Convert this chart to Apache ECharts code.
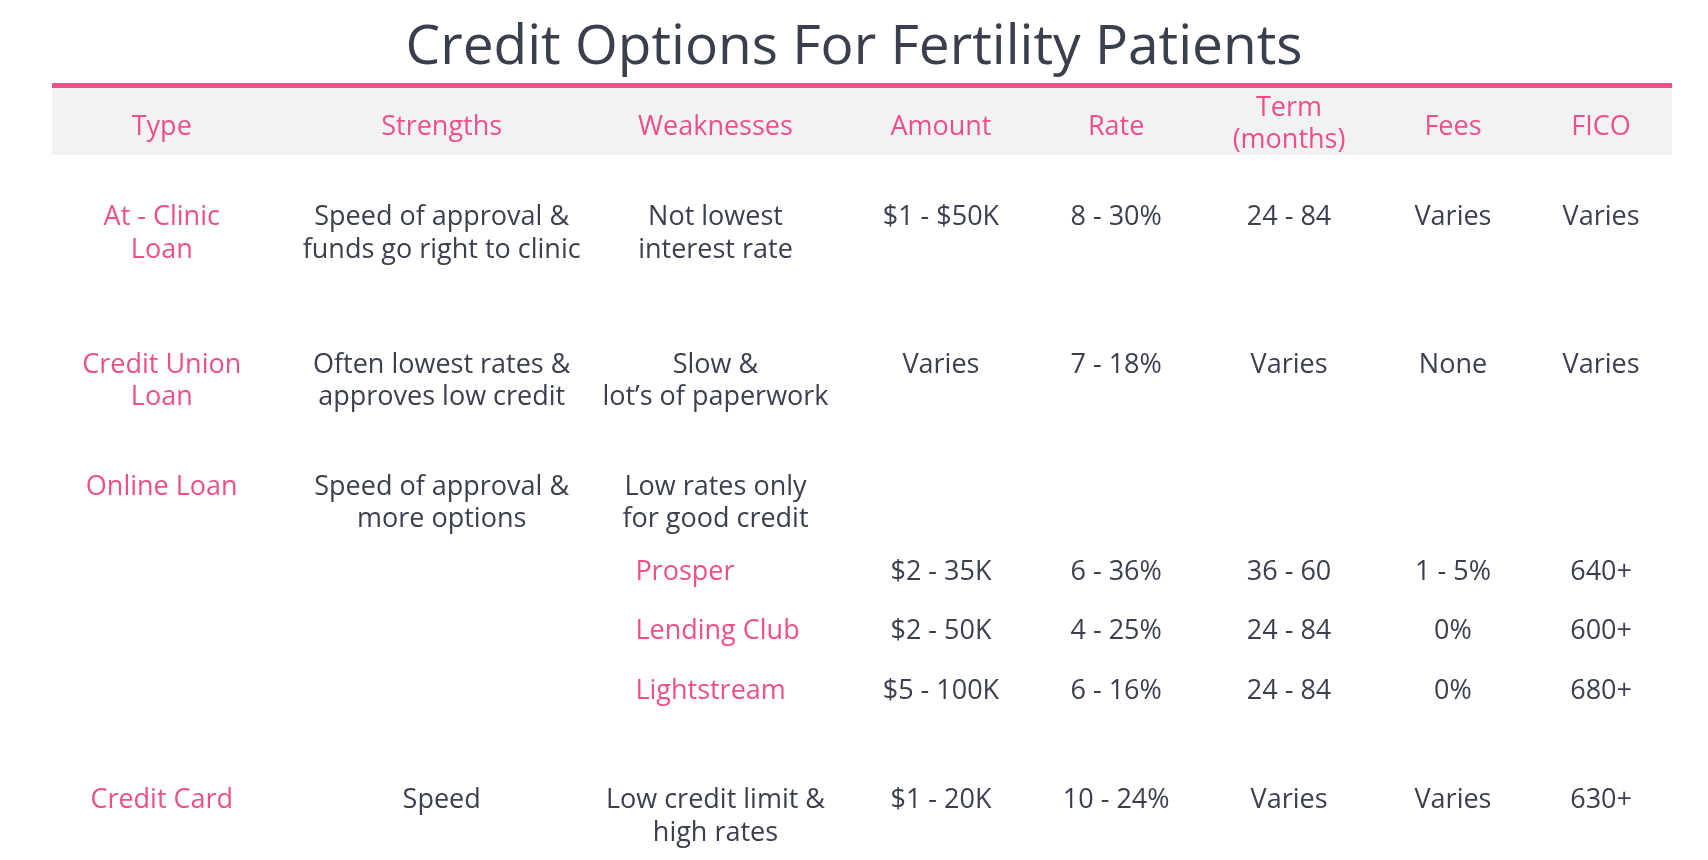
<!DOCTYPE html>
<html>
<head>
<meta charset="utf-8">
<script src="https://cdn.jsdelivr.net/npm/echarts@6/dist/echarts.min.js"></script>
<style>
html,body{margin:0;padding:0;background:#fff;}
#chart{width:1708px;height:860px;}
</style>
</head>
<body>
<div id="chart"></div>
<script>
// ---------------- DATA ----------------
const titleText = 'Credit Options For Fertility Patients';
const columns = ['Type', 'Strengths', 'Weaknesses', 'Amount', 'Rate', 'Term\n(months)', 'Fees', 'FICO'];
const types = ['At - Clinic\nLoan', 'Credit Union\nLoan', 'Online Loan', '', '', '', 'Credit Card'];
const lenders = ['', '', '', 'Prosper', 'Lending Club', 'Lightstream', ''];
const strengths = ['Speed of approval &\nfunds go right to clinic', 'Often lowest rates &\napproves low credit', 'Speed of approval &\nmore options', '', '', '', 'Speed'];
const weaknesses = ['Not lowest\ninterest rate', 'Slow &\nlot\u2019s of paperwork', 'Low rates only\nfor good credit', '', '', '', 'Low credit limit &\nhigh rates'];
const amounts = ['$1 - $50K', 'Varies', '', '$2 - 35K', '$2 - 50K', '$5 - 100K', '$1 - 20K'];
const rates = ['8 - 30%', '7 - 18%', '', '6 - 36%', '4 - 25%', '6 - 16%', '10 - 24%'];
const terms = ['24 - 84', 'Varies', '', '36 - 60', '24 - 84', '24 - 84', 'Varies'];
const fees = ['Varies', 'None', '', '1 - 5%', '0%', '0%', 'Varies'];
const fico = ['Varies', 'Varies', '', '640+', '600+', '680+', '630+'];

// ---------------- LAYOUT ----------------
const colCenters = [9.47, 25.86, 41.89, 55.09, 65.35, 75.47, 85.07, 93.74]; // % of width
const lenderLeft = 37.2;                 // % of width, left edge of lender names
const rowLines = [0, 4.5, 8.23, 10.83, 12.66, 14.49, 17.82]; // in text lines from first row
const headerLine = -2.76;
const LINE = 32.7;
const FIRST_ROW_Y = 217.7;
const PINK = '#ef4f88';
const DARK = '#3b4050';
const FONT = "'Open Sans', sans-serif";
const FS = 27;

// build cell records: [x, y, text, color, align]
const bodyCols = [types, strengths, weaknesses, amounts, rates, terms, fees, fico];
const cells = [];
columns.forEach((c, i) => {
  const n = c.split('\n').length;
  cells.push([colCenters[i], headerLine - (n - 1) * 0.6, c, PINK, 'center']);
});
bodyCols.forEach((arr, ci) => {
  arr.forEach((t, ri) => {
    if (!t) return;
    cells.push([colCenters[ci], rowLines[ri], t, ci === 0 ? PINK : DARK, 'center']);
  });
});
lenders.forEach((t, ri) => {
  if (!t) return;
  cells.push([lenderLeft, rowLines[ri], t, PINK, 'left']);
});

const chart = echarts.init(document.getElementById('chart'), null, {renderer: 'canvas'});
const yMin = -4.5, yMax = 19.5;
const gridTop = FIRST_ROW_Y + yMin * LINE;
const gridH = (yMax - yMin) * LINE;

chart.setOption({
  backgroundColor: '#ffffff',
  animation: false,
  title: {
    text: titleText,
    left: 'center',
    top: 16,
    textStyle: {fontFamily: FONT, fontSize: 55, fontWeight: 'normal', color: '#3a3f4d'}
  },
  graphic: [
    {type: 'rect', shape: {x: 52, y: 88, width: 1620, height: 67}, style: {fill: '#f1f2f4'}, z: -1},
    {type: 'rect', shape: {x: 52, y: 83, width: 1620, height: 5}, style: {fill: PINK}, z: -1}
  ],
  grid: {left: 0, right: 0, top: gridTop, height: gridH},
  xAxis: {type: 'value', min: 0, max: 100, show: false},
  yAxis: {type: 'value', min: yMin, max: yMax, inverse: true, show: false},
  series: [{
    type: 'custom',
    clip: false,
    data: cells,
    renderItem: function (params, api) {
      const d = cells[params.dataIndex];
      const p = api.coord([d[0], d[1]]);
      return {
        type: 'text',
        x: p[0],
        y: p[1] - LINE / 2,
        style: {
          text: d[2],
          fill: d[3],
          fontFamily: FONT,
          fontSize: FS,
          lineHeight: LINE,
          align: d[4],
          verticalAlign: 'top'
        }
      };
    }
  }]
});
</script>
</body>
</html>
